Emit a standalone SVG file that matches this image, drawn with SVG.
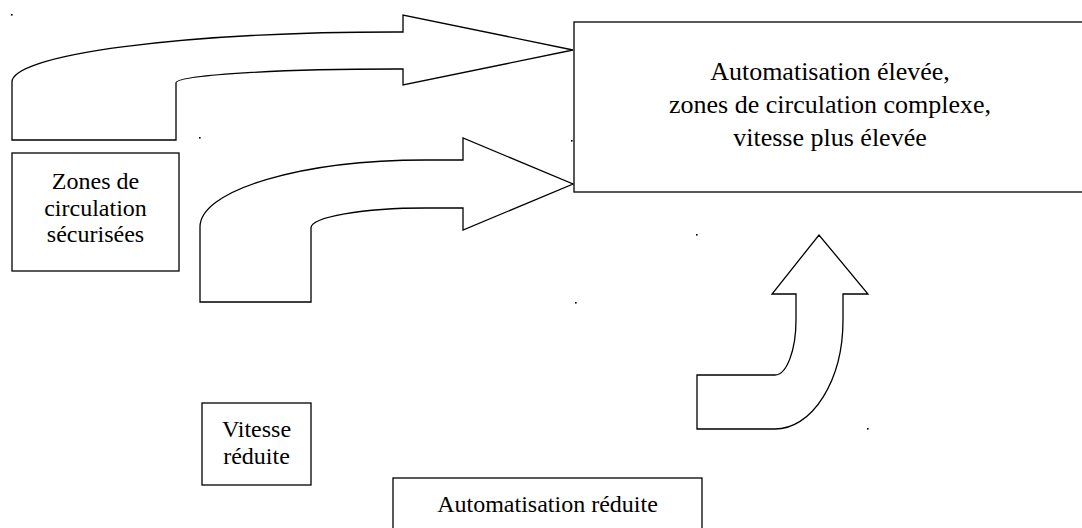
<svg xmlns="http://www.w3.org/2000/svg" width="1082" height="528" viewBox="0 0 1082 528">
<style>
.box{fill:#fff;stroke:#000;stroke-width:1.3}
.arr{fill:#fff;stroke:#000;stroke-width:1.3;stroke-linejoin:miter}
.t{font-family:"Liberation Serif","Times New Roman",serif;font-size:24px;fill:#000;text-anchor:middle}
.tb{font-size:26px}
.dot{fill:#000}
</style>
<rect width="1082" height="528" fill="#fff"/>
<g id="dots">
<rect class="dot" x="11" y="14" width="1.6" height="1.6"/>
<rect class="dot" x="199" y="137" width="1.6" height="1.6"/>
<rect class="dot" x="571" y="140" width="1.6" height="1.6"/>
<rect class="dot" x="575" y="302" width="1.6" height="1.6"/>
<rect class="dot" x="696" y="234" width="1.6" height="1.6"/>
<rect class="dot" x="867" y="428" width="1.6" height="1.6"/>
</g>
<g id="connectors">
<path id="arrow-top" class="arr" d="M12,140 L12,82 A383,50 0 0 1 395,32 L403,32 L403,15 L573,50 L403,85 L403,69 L395,69 A219,14 0 0 0 176,83 L176,140 Z"/>
<path id="arrow-middle" class="arr" d="M200,302 L200,227 A226,67 0 0 1 426,160 L463,160 L463,138 L573,184 L463,230 L463,208 L426,208 A115,20 0 0 0 311,228 L311,302 Z"/>
<path id="arrow-up" class="arr" d="M697,429 L697,375 L775,375 A21,55 0 0 0 796,320 L796,294 L772,294 L819,235 L868,294 L843,294 L843,320 A68,109 0 0 1 775,429 Z"/>
</g>
<g id="node-high">
<rect class="box" x="574" y="22" width="512" height="170"/>
<text class="t tb" x="830" y="80">Automatisation élevée,</text>
<text class="t tb" x="830" y="113">zones de circulation complexe,</text>
<text class="t tb" x="830" y="146">vitesse plus élevée</text>
</g>
<g id="node-zones">
<rect class="box" x="12" y="153" width="167" height="118"/>
<text class="t" x="95.5" y="189">Zones de</text>
<text class="t" x="95.5" y="215.5">circulation</text>
<text class="t" x="95.5" y="242">sécurisées</text>
</g>
<g id="node-vitesse">
<rect class="box" x="202" y="403" width="109" height="82"/>
<text class="t" x="256.5" y="437">Vitesse</text>
<text class="t" x="256.5" y="464">réduite</text>
</g>
<g id="node-auto">
<rect class="box" x="393" y="478" width="309" height="60"/>
<text class="t" x="547.5" y="512">Automatisation réduite</text>
</g>
</svg>
